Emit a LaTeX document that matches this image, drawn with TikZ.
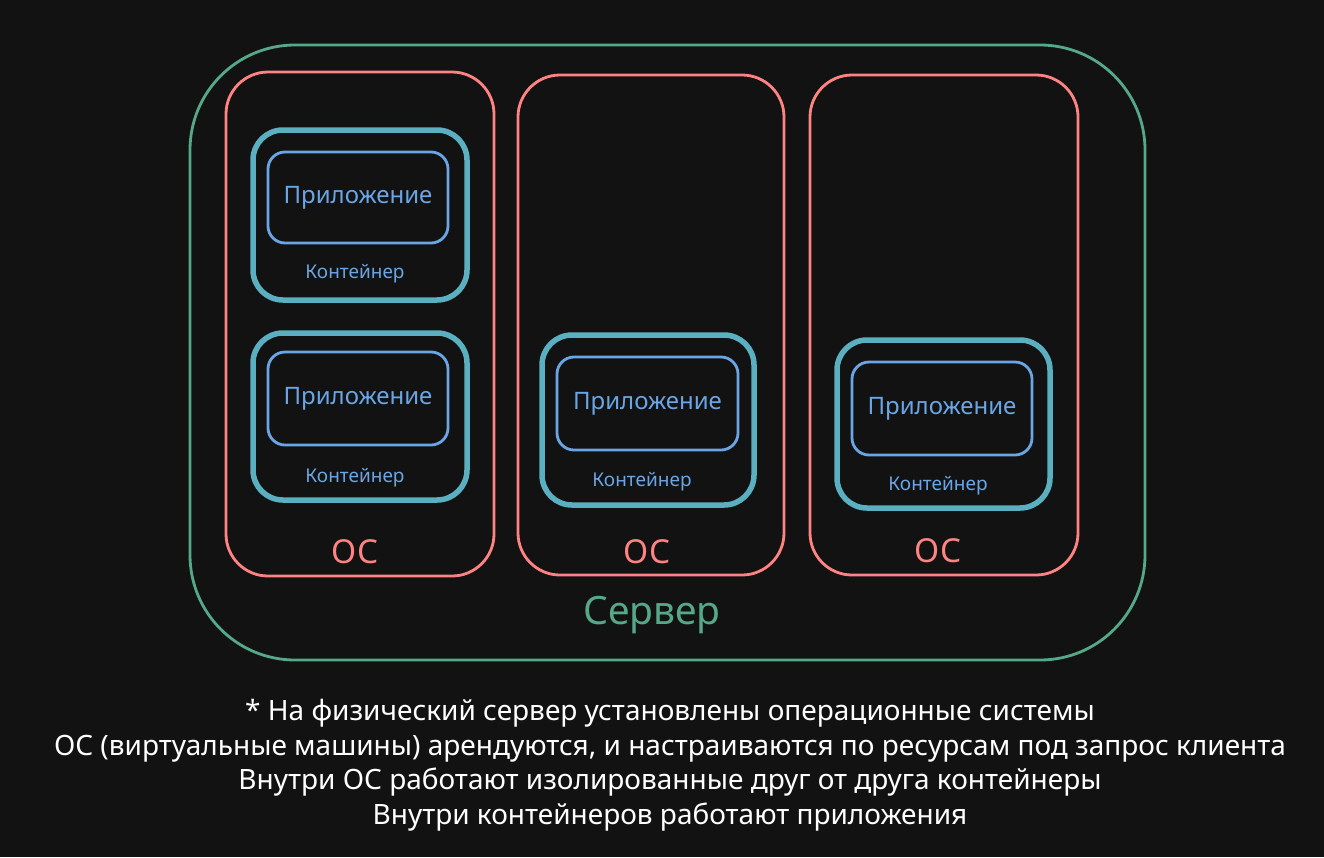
\documentclass[tikz,border=0pt]{standalone}
\usepackage{fontspec}
\setmainfont{Noto Sans}
\usetikzlibrary{positioning}
\definecolor{bgdark}{HTML}{121212}
\definecolor{srvgreen}{HTML}{55A888}
\definecolor{osred}{HTML}{FF8383}
\definecolor{contteal}{HTML}{5AB0C0}
\definecolor{appblue}{HTML}{6AA6E6}
\begin{document}
\begin{tikzpicture}[x=1pt,y=-1pt,
		srvbox/.style={draw=srvgreen,line width=2.8pt,rounded corners=105pt,inner sep=0pt},
		osbox/.style={draw=osred,line width=2.8pt,rounded corners=42pt,inner sep=0pt},
		contbox/.style={draw=contteal,line width=5.5pt,rounded corners=30pt,inner sep=0pt},
		appbox/.style={draw=appblue,line width=2.8pt,rounded corners=17pt,inner sep=0pt,
			text=appblue,font=\fontsize{24}{28}\selectfont},
		contlabel/.style={text=appblue,font=\fontsize{19}{22}\selectfont},
		oslabel/.style={text=osred,font=\fontsize{33}{36}\selectfont},
		srvlabel/.style={text=srvgreen,font=\fontsize{39}{42}\selectfont}]
		\fill[bgdark] (0,0) rectangle (1324,857);
		% server and OS boxes
		\node[srvbox,minimum width=955pt,minimum height=615pt] (server) at (667.5,352.5) {};
		\node[osbox,minimum width=268pt,minimum height=504pt] (os1) at (360,324) {};
		\node[osbox,minimum width=266pt,minimum height=500pt] (os2) at (651,325) {};
		\node[osbox,minimum width=268pt,minimum height=500pt] (os3) at (944,325) {};
		% containers
		\node[contbox,minimum width=214pt,minimum height=170pt] (cont1) at (360,215) {};
		\node[contbox,minimum width=214pt,minimum height=167pt] (cont2) at (360,416.5) {};
		\node[contbox,minimum width=212pt,minimum height=170pt] (cont3) at (648,420) {};
		\node[contbox,minimum width=213pt,minimum height=168pt] (cont4) at (943.5,424) {};
		% apps
		\node[appbox,minimum width=180pt,minimum height=91pt] (app1) at (358,197.5) {Приложение};
		\node[appbox,minimum width=180pt,minimum height=93pt] (app2) at (358,398.5) {Приложение};
		\node[appbox,minimum width=181pt,minimum height=93pt] (app3) at (647.5,403.5) {Приложение};
		\node[appbox,minimum width=180pt,minimum height=93pt] (app4) at (942,408.5) {Приложение};
		% labels
		\node[contlabel] (cl1) at (355,274) {Контейнер};
		\node[contlabel] (cl2) at (355,478) {Контейнер};
		\node[contlabel] (cl3) at (642,482) {Контейнер};
		\node[contlabel] (cl4) at (938,486) {Контейнер};
		\node[oslabel] (ol1) at (355,552) {ОС};
		\node[oslabel] (ol2) at (647,552) {ОС};
		\node[oslabel] (ol3) at (938,551) {ОС};
		\node[srvlabel] (sl) at (652,615) {Сервер};
		% note below
		\node[text=white,align=center,font=\fontsize{28}{34.5}\selectfont] (note) at (670,765)
			{* На физический сервер установлены операционные системы\\
			ОС (виртуальные машины) арендуются, и настраиваются по ресурсам под запрос клиента\\
			Внутри ОС работают изолированные друг от друга контейнеры\\
			Внутри контейнеров работают приложения};
	\end{tikzpicture}
\end{document}
